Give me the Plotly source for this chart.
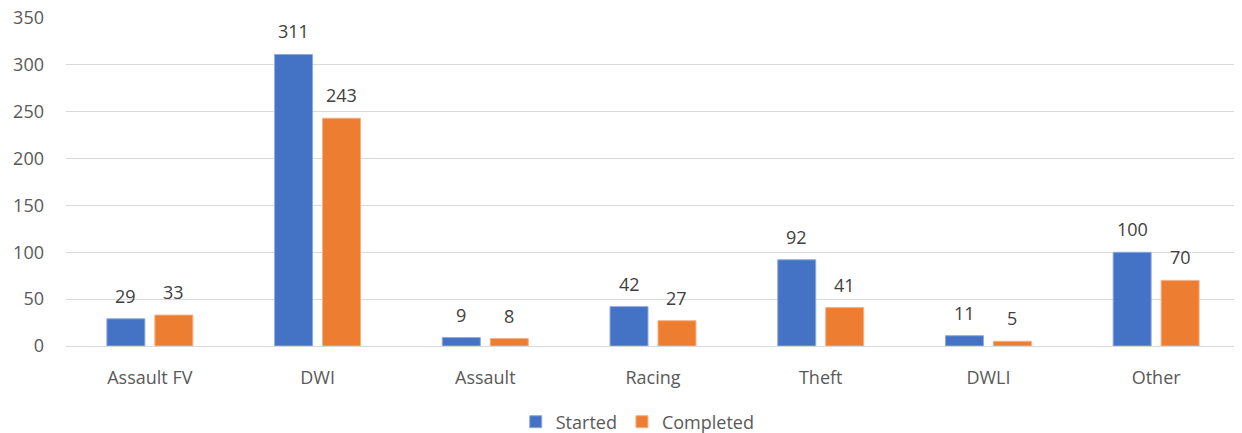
import plotly.graph_objects as go

categories = ["Assault FV", "DWI", "Assault", "Racing", "Theft", "DWLI", "Other"]
started = [29, 311, 9, 42, 92, 11, 100]
completed = [33, 243, 8, 27, 41, 5, 70]
y_ticks = [0, 50, 100, 150, 200, 250, 300, 350]

FONT = "Open Sans, Liberation Sans, sans-serif"
BARGAP = 0.428
GROUPGAP = 0.208
W, H = 1234, 425          # page body has an 8px offset
ML, MR, MT, MB = 58, 2, 9, 87

fig = go.Figure()
fig.add_trace(go.Bar(
    name="Started", x=categories, y=started,
    marker=dict(color="#4472C4", line=dict(color="#8fa9dc", width=1)),
))
fig.add_trace(go.Bar(
    name="Completed", x=categories, y=completed,
    marker=dict(color="#ED7D31", line=dict(color="#f5b185", width=1)),
))

# data labels above bars, offset like the reference
plot_w = W - ML - MR
cat_w = plot_w / len(categories)
slot = (1 - BARGAP) * cat_w / 2
for series, sign in ((started, -1), (completed, 1)):
    for c, v in zip(categories, series):
        fig.add_annotation(x=c, y=v, text=str(v), showarrow=False,
                           xshift=sign * slot / 2, yanchor="bottom", yshift=9,
                           font=dict(size=18, color="#404040", family=FONT))

fig.update_layout(
    width=W, height=H,
    margin=dict(l=ML, r=MR, t=MT, b=MB),
    paper_bgcolor="white", plot_bgcolor="white",
    barmode="group", bargap=BARGAP, bargroupgap=GROUPGAP,
    font=dict(family=FONT, color="#595959", size=18),
    showlegend=True,
    legend=dict(orientation="h", x=0.487, xanchor="center",
                yref="container", y=11 / H, yanchor="middle",
                font=dict(size=18, color="#595959"), itemwidth=30, traceorder="normal"),
)
fig.update_xaxes(showgrid=False, showline=False, ticks="", tickfont=dict(size=18, color="#595959"),
                 ticklabelstandoff=19, automargin=False)
fig.update_yaxes(range=[0, 351], tickvals=y_ticks, showgrid=True, gridcolor="#d9d9d9", gridwidth=1,
                 zeroline=True, zerolinecolor="#d9d9d9", zerolinewidth=1,
                 tickfont=dict(size=18, color="#595959"), ticks="", ticklabelstandoff=21,
                 ticklabeloverflow="allow", automargin=False)

fig.write_html("out.html")
